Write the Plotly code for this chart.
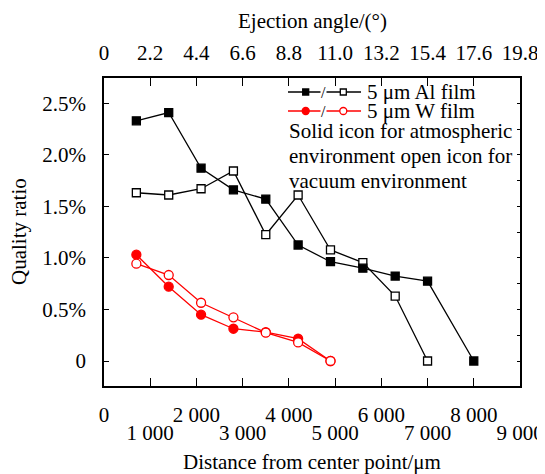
import plotly.graph_objects as go

# ---------------- data (values in %) ----------------
al_atm_x = [700, 1400, 2100, 2800, 3500, 4200, 4900, 5600, 6300, 7000, 8000]
al_atm_y = [2.33, 2.41, 1.87, 1.66, 1.57, 1.125, 0.963, 0.90, 0.824, 0.774, 0.0]
al_vac_x = [700, 1400, 2100, 2800, 3500, 4200, 4900, 5600, 6300, 7000]
al_vac_y = [1.632, 1.61, 1.671, 1.843, 1.225, 1.61, 1.077, 0.955, 0.63, 0.0]
w_x = [700, 1400, 2100, 2800, 3500, 4200, 4900]
w_atm_y = [1.031, 0.721, 0.449, 0.313, 0.28, 0.216, 0.0]
w_vac_y = [0.944, 0.834, 0.565, 0.424, 0.275, 0.18, 0.0]

x_even_ticks = [0, 2000, 4000, 6000, 8000]
x_even_text = ["0", "2 000", "4 000", "6 000", "8 000"]
x_odd_ticks = [1000, 3000, 5000, 7000, 9000]
x_odd_text = ["1 000", "3 000", "5 000", "7 000", "9 000"]
angle_ticks = [0, 2.2, 4.4, 6.6, 8.8, 11.0, 13.2, 15.4, 17.6, 19.8]
angle_text = ["0", "2.2", "4.4", "6.6", "8.8", "11.0", "13.2", "15.4", "17.6", "19.8"]
y_ticks = [0, 0.5, 1.0, 1.5, 2.0, 2.5]
y_text = ["0", "0.5%", "1.0%", "1.5%", "2.0%", "2.5%"]
y_minor = [i * 0.25 for i in range(-0, 11)]

FONT = "Liberation Serif"
FS = 21
RED = "#ff0000"
LW = 1.3

fig = go.Figure()

def add_series(x, y, color, symbol, filled, size):
    fig.add_trace(go.Scatter(
        x=x, y=y, mode="lines+markers",
        line=dict(color=color, width=LW),
        marker=dict(symbol=symbol, size=size,
                    color=color if filled else "white",
                    line=dict(color=color, width=LW)),
        showlegend=False, cliponaxis=False))

add_series(al_vac_x, al_vac_y, "black", "square", False, 8)
add_series(al_atm_x, al_atm_y, "black", "square", True, 8)
add_series(w_x, w_atm_y, RED, "circle", True, 9)
add_series(w_x, w_vac_y, RED, "circle", False, 9)

# ---- legend glyphs on a pixel-coordinate overlay ----
leg_rows = [(92, "black", "square", 6, "5 μm Al film"),
            (111, RED, "circle", 7, "5 μm W film")]
for yy, col, sym, sz, label in leg_rows:
    fig.add_trace(go.Scatter(
        x=[288, 361], y=[yy, yy], mode="lines",
        line=dict(color=col, width=LW), xaxis="x5", yaxis="y5",
        showlegend=False, hoverinfo="skip"))
    fig.add_trace(go.Scatter(
        x=[305.7, 343.3], y=[yy, yy], mode="markers",
        marker=dict(symbol=sym, size=sz, color=[col, "white"],
                    line=dict(color=col, width=LW)),
        xaxis="x5", yaxis="y5", showlegend=False, hoverinfo="skip"))

annotations = []
for yy, col, sym, sz, label in leg_rows:
    annotations.append(dict(x=323.5, y=yy, xref="x5", yref="y5", text="/",
                            showarrow=False, font=dict(family=FONT, size=16, color="black"),
                            bgcolor="white", borderpad=0))
    annotations.append(dict(x=365, y=yy, xref="x5", yref="y5", text=label,
                            showarrow=False, xanchor="left", yanchor="middle",
                            font=dict(family=FONT, size=FS, color="black")))
for yy, txt in [(131, "Solid icon for atmospheric"),
                (156, "environment open icon for"),
                (181, "vacuum environment")]:
    annotations.append(dict(x=287, y=yy, xref="x5", yref="y5", text=txt,
                            showarrow=False, xanchor="left", yanchor="middle",
                            font=dict(family=FONT, size=FS, color="black")))

# axis titles
annotations.append(dict(x=0.5, y=0, xref="paper", yref="paper", yshift=-76,
                        text="Distance from center point/μm", showarrow=False,
                        yanchor="middle", font=dict(family=FONT, size=FS, color="black")))
annotations.append(dict(x=0.5, y=1, xref="paper", yref="paper", yshift=57,
                        text="Ejection angle/(°)", showarrow=False,
                        yanchor="middle", font=dict(family=FONT, size=FS, color="black")))
annotations.append(dict(x=0, y=0.5, xref="paper", yref="paper", xshift=-85,
                        text="Quality ratio", showarrow=False, textangle=-90,
                        xanchor="center", yanchor="middle",
                        font=dict(family=FONT, size=FS, color="black")))

tickfont = dict(family=FONT, size=FS, color="black")
YR = [-0.2425, 2.745]

# page body has an 8px margin, so the figure is offset by 8px
fig.update_layout(
    width=537, height=466,
    margin=dict(l=96, r=25, t=70, b=88, autoexpand=False),
    paper_bgcolor="white", plot_bgcolor="white",
    font=dict(family=FONT, size=FS, color="black"),
    xaxis=dict(range=[0, 9000], tickvals=x_even_ticks, ticktext=x_even_text,
               ticks="inside", ticklen=8, tickwidth=1.2, tickcolor="black",
               showline=True, linecolor="black", linewidth=1.5,
               showgrid=False, zeroline=False, tickfont=tickfont,
               ticklabelstandoff=9, automargin=False),
    xaxis3=dict(range=[0, 9000], overlaying="x", anchor="y", side="bottom",
                tickvals=x_odd_ticks, ticktext=x_odd_text,
                ticks="inside", ticklen=8, tickwidth=1.2, tickcolor="black",
                showline=False, showgrid=False, zeroline=False, tickfont=tickfont,
                ticklabelstandoff=32, automargin=False),
    xaxis2=dict(range=[0, 19.8], overlaying="x", anchor="y", side="top",
                tickvals=angle_ticks, ticktext=angle_text,
                ticks="inside", ticklen=8, tickwidth=1.2, tickcolor="black",
                showline=True, linecolor="black", linewidth=1.5,
                showgrid=False, zeroline=False, tickfont=tickfont,
                ticklabelstandoff=8, automargin=False),
    yaxis=dict(range=YR, tickvals=y_ticks, ticktext=y_text,
               ticks="inside", ticklen=5, tickwidth=1.2, tickcolor="black",
               showline=True, linecolor="black", linewidth=1.5,
               showgrid=False, zeroline=False, tickfont=tickfont,
               ticklabelstandoff=12, automargin=False),
    yaxis2=dict(range=YR, overlaying="y", anchor="x", side="right",
                tickvals=y_minor, ticks="inside", ticklen=3, tickwidth=1,
                tickcolor="black", showticklabels=False,
                showline=True, linecolor="black", linewidth=1.5,
                showgrid=False, zeroline=False, automargin=False),
    xaxis5=dict(range=[104, 520], overlaying="x", anchor="y5", visible=False),
    yaxis5=dict(range=[386, 78], overlaying="y", anchor="x5", visible=False),
    annotations=annotations,
)

# attach dummy traces so overlay axes render
fig.add_trace(go.Scatter(x=[None], y=[None], xaxis="x2", yaxis="y", showlegend=False))
fig.add_trace(go.Scatter(x=[None], y=[None], xaxis="x3", yaxis="y2", showlegend=False))

fig.write_html("out.html")
